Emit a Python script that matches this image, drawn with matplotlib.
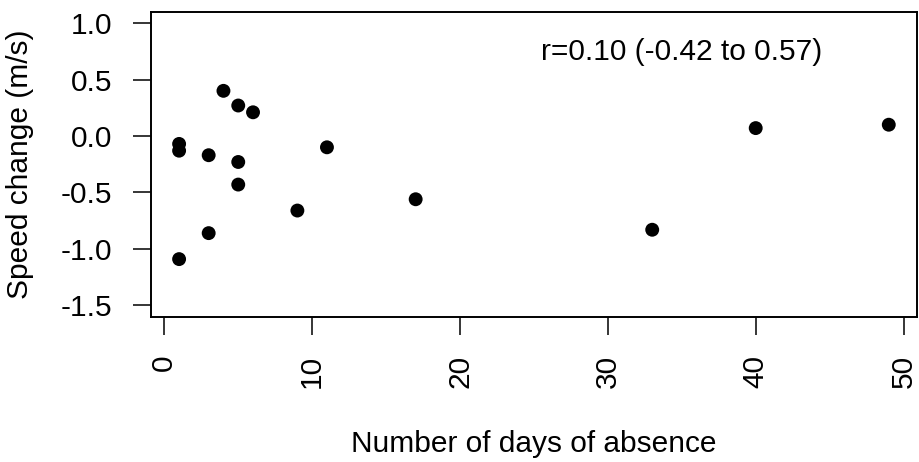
import matplotlib
matplotlib.use("Agg")
import matplotlib.pyplot as plt

days = [1, 1, 1, 3, 3, 4, 5, 5, 5, 6, 9, 11, 17, 33, 40, 49]
speed = [-0.07, -0.13, -1.09, -0.17, -0.86, 0.40, 0.27, -0.23, -0.43, 0.21,
         -0.66, -0.10, -0.56, -0.83, 0.07, 0.10]
x_ticks = [0, 10, 20, 30, 40, 50]
y_ticks = [-1.5, -1.0, -0.5, 0.0, 0.5, 1.0]
annotation = "r=0.10 (-0.42 to 0.57)"

plt.rcParams['font.family'] = ['Liberation Sans', 'DejaVu Sans']
plt.rcParams['axes.unicode_minus'] = False
FS = 21.5

fig = plt.figure(figsize=(9.19, 4.62), dpi=100)
ax = fig.add_axes([0.164, 0.3145, 0.834, 0.660])

ax.scatter(days, speed, s=100, color='black', edgecolors='none', zorder=3)

ax.set_xlim(-0.92, 50.92)
ax.set_ylim(-1.6, 1.1)
ax.set_xticks(x_ticks)
ax.set_xticklabels([str(v) for v in x_ticks], rotation=90)
ax.set_yticks(y_ticks)
ax.set_yticklabels([f"{v:.1f}" for v in y_ticks])
ax.tick_params(axis='both', direction='out', length=13, width=1.1,
               labelsize=FS, pad=14.5, color='black')

for sp in ax.spines.values():
    sp.set_linewidth(1.4)
    sp.set_color('black')

ax.set_xlabel("Number of days of absence", fontsize=FS)
ax.set_ylabel("Speed change (m/s)", fontsize=FS)
ax.xaxis.set_label_coords(0.5, -0.372)
ax.yaxis.set_label_coords(-0.152, 0.5)

ax.text(35, 0.674, annotation, fontsize=FS, ha='center', va='baseline')

fig.savefig("out.png", dpi=100)
